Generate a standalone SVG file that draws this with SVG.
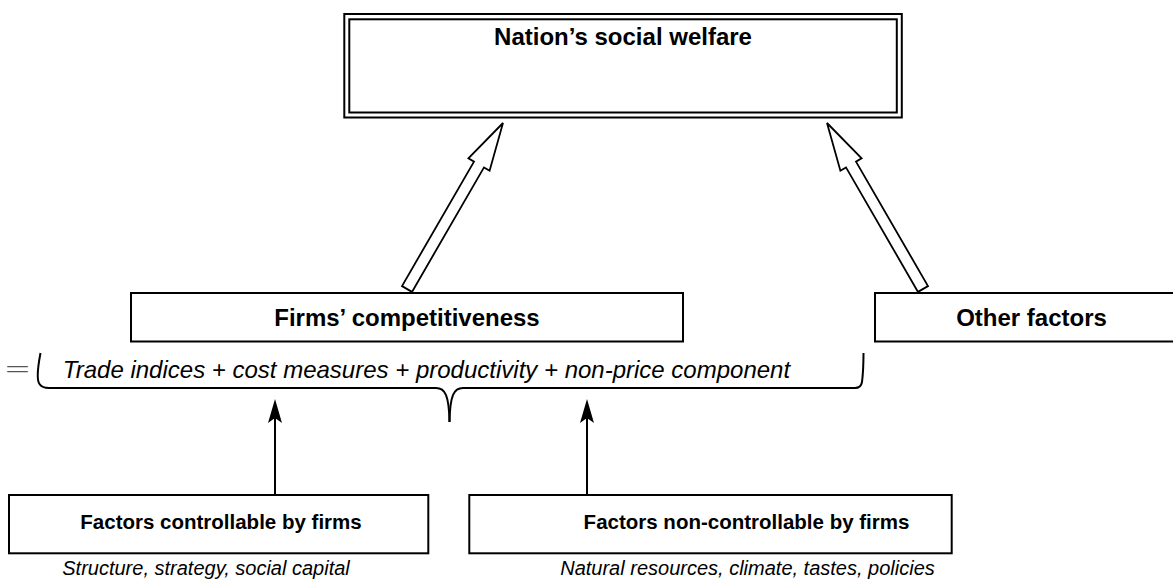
<svg xmlns="http://www.w3.org/2000/svg" width="1173" height="585" viewBox="0 0 1173 585">
<style>
.box{fill:#fff;stroke:#000;stroke-width:2}
.b{font-family:"Liberation Sans",Arial,sans-serif;font-weight:bold;fill:#000;text-anchor:middle}
.i{font-family:"Liberation Sans",Arial,sans-serif;font-style:italic;fill:#000;text-anchor:middle}
.blk{fill:#fff;stroke:#000;stroke-width:1.8;stroke-linejoin:miter}
.ln{fill:none;stroke:#000;stroke-width:2}
</style>
<rect width="1173" height="585" fill="#fff"/>
<g id="connectors">
<polygon class="blk" points="402,286.1 474,161.6 468.4,158.3 503,123 489.6,170.7 484,167.4 412,291.9"/>
<polygon class="blk" points="928,286.1 856,161.6 861.6,158.3 827,123 840.4,170.7 846,167.4 918,291.9"/>
<line class="ln" x1="275" y1="495" x2="275" y2="415"/>
<polygon points="275,399 282,423 275,418 268,423" fill="#000"/>
<line class="ln" x1="587" y1="495" x2="587" y2="415"/>
<polygon points="587,399 594,423 587,418 580,423" fill="#000"/>
</g>
<g id="node-welfare">
<rect class="box" x="344.3" y="14" width="557.5" height="103.5"/>
<rect class="box" x="349.3" y="19.3" width="547.5" height="93.2" stroke-width="1.8"/>
<text class="b" x="623" y="45" font-size="24">Nation’s social welfare</text>
</g>
<g id="node-firms">
<rect class="box" x="131" y="293" width="552" height="48.5"/>
<text class="b" x="407" y="325.5" font-size="24">Firms’ competitiveness</text>
</g>
<g id="node-other">
<rect class="box" x="875" y="293" width="320" height="48.5"/>
<text class="b" x="1031.5" y="325.5" font-size="24">Other factors</text>
</g>
<g id="node-brace">
<text transform="translate(5,378) scale(1.7,1)" font-family="'Liberation Serif','Times New Roman',serif" font-size="26" fill="#555">=</text>
<path class="ln" d="M40.5,353 C38,366 36.5,380 39.5,384 Q42,388 49,388 L436,388 C445,388 449,395 449.5,422"/>
<path class="ln" d="M449.5,422 C450,395 454,388 463,388 L855,388 Q861,388 862,382 C863,374 863.5,362 863.5,353"/>
<text class="i" x="426.5" y="377.5" font-size="24">Trade indices + cost measures + productivity + non-price component</text>
</g>
<g id="node-controllable">
<rect class="box" x="9" y="495" width="419.3" height="58.3"/>
<text class="b" x="221" y="528.5" font-size="20.5">Factors controllable by firms</text>
<text class="i" x="206" y="575" font-size="20">Structure, strategy, social capital</text>
</g>
<g id="node-noncontrollable">
<rect class="box" x="469.3" y="495" width="482.4" height="58.3"/>
<text class="b" x="746.5" y="528.5" font-size="20.5">Factors non-controllable by firms</text>
<text class="i" x="747.5" y="575" font-size="20">Natural resources, climate, tastes, policies</text>
</g>
</svg>
